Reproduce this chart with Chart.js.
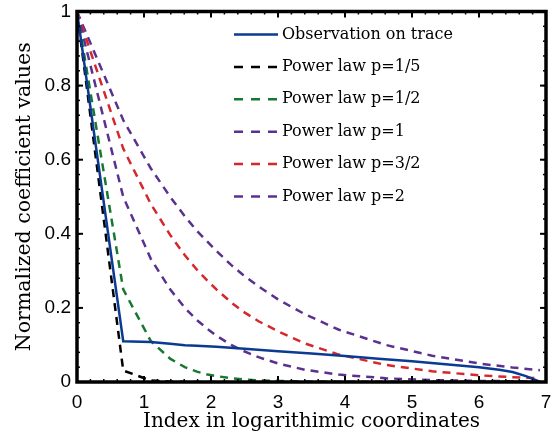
<!DOCTYPE html>
<html>
<head>
<meta charset="utf-8">
<script src="https://cdn.jsdelivr.net/npm/chart.js@4.4.1/dist/chart.umd.min.js"></script>
<style>
  html, body { margin: 0; padding: 0; background: #fff; }
  #wrap { width: 557px; height: 438px; }
</style>
</head>
<body>
<div id="wrap"><canvas id="coef"></canvas></div>
<script>
// points de l'observation (x = index en coordonnées log)
const obsX = [0, 0.69, 1.1, 1.39, 1.61, 1.79, 2.08, 2.5, 3.0, 3.5, 4.0, 4.5, 5.0, 5.5, 6.0, 6.3, 6.5, 6.7, 6.85, 6.91];
const obsY = [1, 0.11, 0.108, 0.103, 0.099, 0.098, 0.095, 0.09, 0.083, 0.077, 0.07, 0.063, 0.056, 0.048, 0.04, 0.033, 0.027, 0.016, 0.005, 0];

// abscisses communes aux lois de puissance
const lawX = [0, 0.69, 1.1, 1.39, 1.61, 1.79, 1.95, 2.08, 2.3, 2.48, 2.71, 3.0, 3.4, 3.91, 4.61, 5.3, 6.0, 6.5, 6.91];
const lawP1_5 = [1, 0.031, 0.004, 0.001, 0, 0, 0, 0, 0, 0, 0, 0, 0, 0, 0, 0, 0, 0, 0];
const lawP1_2 = [1, 0.25, 0.111, 0.063, 0.04, 0.028, 0.02, 0.016, 0.01, 0.007, 0.004, 0.003, 0.001, 0, 0, 0, 0, 0, 0];
const lawP1 = [1, 0.5, 0.333, 0.25, 0.2, 0.167, 0.143, 0.125, 0.1, 0.084, 0.067, 0.05, 0.033, 0.02, 0.01, 0.005, 0.003, 0.002, 0.001];
const lawP3_2 = [1, 0.63, 0.481, 0.397, 0.342, 0.303, 0.273, 0.25, 0.215, 0.19, 0.164, 0.137, 0.104, 0.074, 0.046, 0.029, 0.018, 0.013, 0.01];
const lawP2 = [1, 0.707, 0.577, 0.5, 0.447, 0.408, 0.378, 0.354, 0.316, 0.289, 0.258, 0.223, 0.183, 0.141, 0.1, 0.071, 0.05, 0.039, 0.032];

const seriesLabels = ['Observation on trace', 'Power law p=1/5', 'Power law p=1/2', 'Power law p=1', 'Power law p=3/2', 'Power law p=2'];
const xTicks = [0, 1, 2, 3, 4, 5, 6, 7];
const yTicks = [0, 0.2, 0.4, 0.6, 0.8, 1];
const yTickLabels = ['0', '0.2', '0.4', '0.6', '0.8', '1'];

const toPts = (xs, ys) => xs.map((v, i) => ({ x: v, y: ys[i] }));

const serifFont = '"DejaVu Serif", serif';
const sansFont = '"Liberation Sans", Arial, sans-serif';

function dashed(label, ys, color) {
    return {
        label: label,
        data: toPts(lawX, ys),
        borderColor: color,
        borderWidth: 2.5,
        borderDash: [8, 6],
        pointRadius: 0,
        tension: 0,
        fill: false
    };
}

// cadre noir + graduations vers l'intérieur
const cadrePlugin = {
    id: 'cadre',
    afterDatasetsDraw(chart) {
        const { ctx, chartArea: a, scales } = chart;
        const sx = scales.x, sy = scales.y;
        ctx.save();
        ctx.strokeStyle = '#000';
        const seg = (x1, y1, x2, y2) => { ctx.beginPath(); ctx.moveTo(x1, y1); ctx.lineTo(x2, y2); ctx.stroke(); };
        ctx.lineWidth = 1.5;
        for (let i = 0; i <= 35; i++) {
            const px = sx.getPixelForValue(i / 5);
            seg(px, a.bottom, px, a.bottom - 3);
            seg(px, a.top, px, a.top + 3);
        }
        for (let i = 0; i <= 25; i++) {
            const py = sy.getPixelForValue(i / 25);
            seg(a.left, py, a.left + 3, py);
            seg(a.right, py, a.right - 3, py);
        }
        ctx.lineWidth = 2;
        xTicks.forEach(v => {
            const px = sx.getPixelForValue(v);
            seg(px, a.bottom, px, a.bottom - 6);
            seg(px, a.top, px, a.top + 6);
        });
        yTicks.forEach(v => {
            const py = sy.getPixelForValue(v);
            seg(a.left, py, a.left + 6, py);
            seg(a.right, py, a.right - 6, py);
        });
        ctx.lineWidth = 3.5;
        ctx.strokeRect(a.left, a.top, a.right - a.left, a.bottom - a.top);
        ctx.restore();
    },
    afterDraw(chart) {
        // légende dans la zone du graphique, en haut à droite
        const { ctx, chartArea: a } = chart;
        const x0 = a.left + 157, y0 = a.top + 23, pas = 32.4;
        ctx.save();
        ctx.font = '16px ' + serifFont;
        ctx.textBaseline = 'middle';
        chart.data.datasets.forEach((ds, i) => {
            const y = y0 + i * pas;
            ctx.strokeStyle = ds.borderColor;
            ctx.lineWidth = ds.borderWidth;
            ctx.setLineDash(ds.borderDash ? [9, 8] : []);
            ctx.beginPath();
            ctx.moveTo(x0, y);
            ctx.lineTo(x0 + 44, y);
            ctx.stroke();
            ctx.setLineDash([]);
            ctx.fillStyle = '#000';
            ctx.fillText(ds.label, x0 + 48, y);
        });
        ctx.restore();
    }
};

const ctx_coef = document.getElementById('coef').getContext('2d');

new Chart(ctx_coef, {
    type: 'line',
    data: {
        datasets: [
            {
                label: seriesLabels[0],
                data: toPts(obsX, obsY),
                borderColor: '#0a3a92',
                borderWidth: 2.5,
                pointRadius: 0,
                tension: 0,
                fill: false
            },
            dashed(seriesLabels[1], lawP1_5, '#000000'),
            dashed(seriesLabels[2], lawP1_2, '#18782f'),
            dashed(seriesLabels[3], lawP1, '#5b3190'),
            dashed(seriesLabels[4], lawP3_2, '#d4282c'),
            dashed(seriesLabels[5], lawP2, '#5b3190')
        ]
    },
    options: {
        responsive: true,
        maintainAspectRatio: false,
        animation: false,
        devicePixelRatio: 1,
        layout: { padding: { top: 11.5, right: 11, left: 0, bottom: 0 } },
        plugins: {
            legend: { display: false },
            tooltip: { enabled: false }
        },
        scales: {
            x: {
                type: 'linear',
                min: 0,
                max: 7,
                afterBuildTicks: s => { s.ticks = xTicks.map(v => ({ value: v })); },
                afterFit: s => { s.height = 56; s.paddingLeft = 0; s.paddingRight = 0; },
                ticks: {
                    color: '#000',
                    font: { family: sansFont, size: 19 },
                    padding: 9,
                    maxRotation: 0
                },
                grid: { display: false, drawTicks: false },
                border: { display: false },
                title: {
                    display: true,
                    text: 'Index in logarithimic coordinates',
                    color: '#000',
                    font: { family: serifFont, size: 20 },
                    padding: { top: 0, bottom: 4 }
                }
            },
            y: {
                min: 0,
                max: 1,
                afterBuildTicks: s => { s.ticks = yTicks.map(v => ({ value: v })); },
                afterFit: s => { s.width = 77; s.paddingTop = 0; s.paddingBottom = 0; },
                ticks: {
                    color: '#000',
                    font: { family: sansFont, size: 19 },
                    padding: 6,
                    callback: v => yTickLabels[yTicks.indexOf(v)] ?? String(v)
                },
                grid: { display: false, drawTicks: false },
                border: { display: false },
                title: {
                    display: true,
                    text: 'Normalized coefficient values',
                    color: '#000',
                    font: { family: serifFont, size: 20.5 },
                    padding: { top: 12, bottom: 0 }
                }
            }
        }
    },
    plugins: [cadrePlugin]
});
</script>
</body>
</html>
